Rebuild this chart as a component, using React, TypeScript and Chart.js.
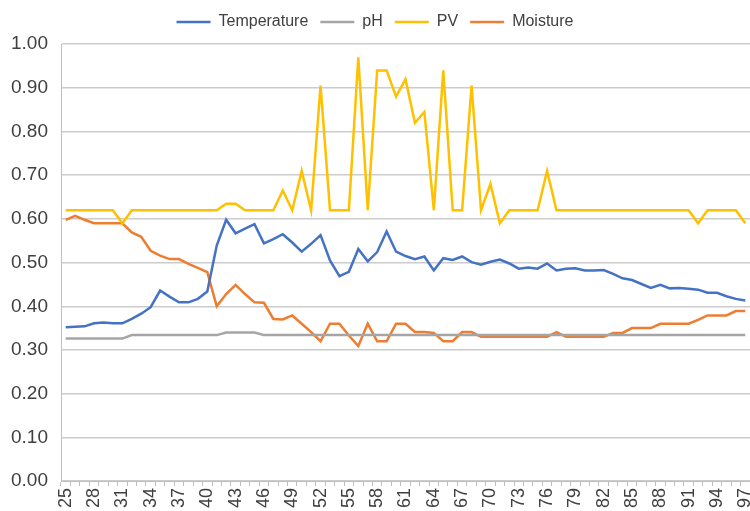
import React, { useEffect, useRef } from 'react';
import { Chart, registerables } from 'chart.js';
Chart.register(...registerables);

const categories: string[] = [
  '25','26','27','28','29','30','31','32','33','34','35','36','37','38','39','40',
  '41','42','43','44','45','46','47','48','49','50','51','52','53','54','55','56',
  '57','58','59','60','61','62','63','64','65','66','67','68','69','70','71','72',
  '73','74','75','76','77','78','79','80','81','82','83','84','85','86','87','88',
  '89','90','91','92','93','94','95','96','97'
];

const temperature: number[] = [
  0.352, 0.353, 0.354, 0.361, 0.363, 0.361, 0.361, 0.371, 0.383, 0.398, 0.436, 0.422, 0.409, 0.409, 0.417, 0.434,
  0.539, 0.598, 0.567, 0.578, 0.588, 0.544, 0.554, 0.565, 0.546, 0.525, 0.543, 0.563, 0.505, 0.469, 0.479, 0.531,
  0.503, 0.524, 0.571, 0.525, 0.515, 0.508, 0.514, 0.482, 0.510, 0.506, 0.514, 0.501, 0.495, 0.502, 0.507, 0.498,
  0.486, 0.489, 0.486, 0.498, 0.482, 0.486, 0.487, 0.482, 0.482, 0.483, 0.474, 0.464, 0.460, 0.451, 0.442, 0.449,
  0.441, 0.442, 0.440, 0.438, 0.431, 0.431, 0.423, 0.417, 0.413
];

const pH: number[] = [
  0.326, 0.326, 0.326, 0.326, 0.326, 0.326, 0.326, 0.334, 0.334, 0.334, 0.334, 0.334, 0.334, 0.334, 0.334, 0.334,
  0.334, 0.340, 0.340, 0.340, 0.340, 0.334, 0.334, 0.334, 0.334, 0.334, 0.334, 0.334, 0.334, 0.334, 0.334, 0.334,
  0.334, 0.334, 0.334, 0.334, 0.334, 0.334, 0.334, 0.334, 0.334, 0.334, 0.334, 0.334, 0.334, 0.334, 0.334, 0.334,
  0.334, 0.334, 0.334, 0.334, 0.334, 0.334, 0.334, 0.334, 0.334, 0.334, 0.334, 0.334, 0.334, 0.334, 0.334, 0.334,
  0.334, 0.334, 0.334, 0.334, 0.334, 0.334, 0.334, 0.334, 0.334
];

const pv: number[] = [
  0.62, 0.62, 0.62, 0.62, 0.62, 0.62, 0.59, 0.62, 0.62, 0.62, 0.62, 0.62, 0.62, 0.62, 0.62, 0.62,
  0.62, 0.635, 0.635, 0.62, 0.62, 0.62, 0.62, 0.665, 0.62, 0.71, 0.62, 0.905, 0.62, 0.62, 0.62, 0.97,
  0.62, 0.94, 0.94, 0.88, 0.92, 0.82, 0.845, 0.62, 0.94, 0.62, 0.62, 0.905, 0.62, 0.68, 0.59, 0.62,
  0.62, 0.62, 0.62, 0.71, 0.62, 0.62, 0.62, 0.62, 0.62, 0.62, 0.62, 0.62, 0.62, 0.62, 0.62, 0.62,
  0.62, 0.62, 0.62, 0.59, 0.62, 0.62, 0.62, 0.62, 0.59
];

const moisture: number[] = [
  0.598, 0.607, 0.598, 0.590, 0.590, 0.590, 0.590, 0.569, 0.559, 0.527, 0.516, 0.508, 0.508, 0.497, 0.488, 0.478,
  0.400, 0.428, 0.449, 0.428, 0.409, 0.408, 0.371, 0.370, 0.379, 0.360, 0.341, 0.320, 0.360, 0.360, 0.333, 0.309,
  0.360, 0.320, 0.320, 0.360, 0.360, 0.341, 0.341, 0.339, 0.320, 0.320, 0.341, 0.341, 0.330, 0.330, 0.330, 0.330,
  0.330, 0.330, 0.330, 0.330, 0.341, 0.330, 0.330, 0.330, 0.330, 0.330, 0.339, 0.339, 0.350, 0.350, 0.350, 0.360,
  0.360, 0.360, 0.360, 0.369, 0.379, 0.379, 0.379, 0.389, 0.389
];

const seriesNames = ['Temperature', 'pH', 'PV', 'Moisture'];
const seriesColors = ['#4472C4', '#A5A5A5', '#FFC000', '#ED7D31'];
const yTicks = [0, 0.1, 0.2, 0.3, 0.4, 0.5, 0.6, 0.7, 0.8, 0.9, 1.0];

const FONT = "'Liberation Sans', Arial, sans-serif";

export default function App() {
  const canvasRef = useRef<HTMLCanvasElement | null>(null);

  useEffect(() => {
    const canvas = canvasRef.current;
    if (!canvas) return;
    const values = [temperature, pH, pv, moisture];
    const chart = new Chart(canvas, {
      type: 'line',
      data: {
        labels: categories,
        datasets: seriesNames.map((name, i) => ({
          label: name,
          data: values[i],
          borderColor: seriesColors[i],
          backgroundColor: seriesColors[i],
          borderWidth: 2.5,
          pointRadius: 0,
          pointHoverRadius: 0,
          tension: 0,
          fill: false,
        })),
      },
      options: {
        animation: false,
        responsive: false,
        maintainAspectRatio: false,
        layout: { padding: { top: 2, left: 0, right: 0, bottom: 0 } },
        plugins: {
          tooltip: { enabled: false },
          title: {
            display: true,
            text: '',
            weight: 500,
            font: { size: 1 },
            padding: { top: 0, bottom: 3 },
          },
          legend: {
            position: 'top',
            labels: {
              usePointStyle: true,
              pointStyle: 'line',
              pointStyleWidth: 34,
              boxHeight: 3,
              padding: 12,
              color: '#404040',
              font: { family: FONT, size: 16 },
            },
          },
        },
        scales: {
          x: {
            type: 'category',
            offset: true,
            grid: {
              offset: true,
              drawOnChartArea: false,
              drawTicks: true,
              tickLength: 5,
              color: '#BFBFBF',
            },
            border: { display: true, color: '#BFBFBF', width: 1 },
            ticks: {
              autoSkip: false,
              minRotation: 90,
              maxRotation: 90,
              padding: 2,
              color: '#404040',
              font: { family: FONT, size: 18 },
              callback: (_v: any, idx: number) => (idx % 3 === 0 ? categories[idx] : ''),
            },
            afterFit: (s: any) => { s.height = 30; s.paddingRight = 0; s.paddingLeft = 0; },
          },
          y: {
            min: 0,
            max: 1,
            afterBuildTicks: (s: any) => { s.ticks = yTicks.map((v) => ({ value: v })); },
            grid: { color: '#CCCCCC', lineWidth: 1.5, drawTicks: false },
            border: { display: true, color: '#BFBFBF', width: 1 },
            ticks: {
              padding: 13,
              color: '#404040',
              font: { family: FONT, size: 19 },
              callback: (v: any) => Number(v).toFixed(2),
            },
            afterFit: (s: any) => { s.width = 61; },
          },
        },
      },
    });
    return () => chart.destroy();
  }, []);

  return (
    <div style={{ position: 'fixed', left: 0, top: 0, width: 750, height: 511, background: '#fff' }}>
      <canvas ref={canvasRef} width={750} height={511} style={{ display: 'block' }} />
    </div>
  );
}
